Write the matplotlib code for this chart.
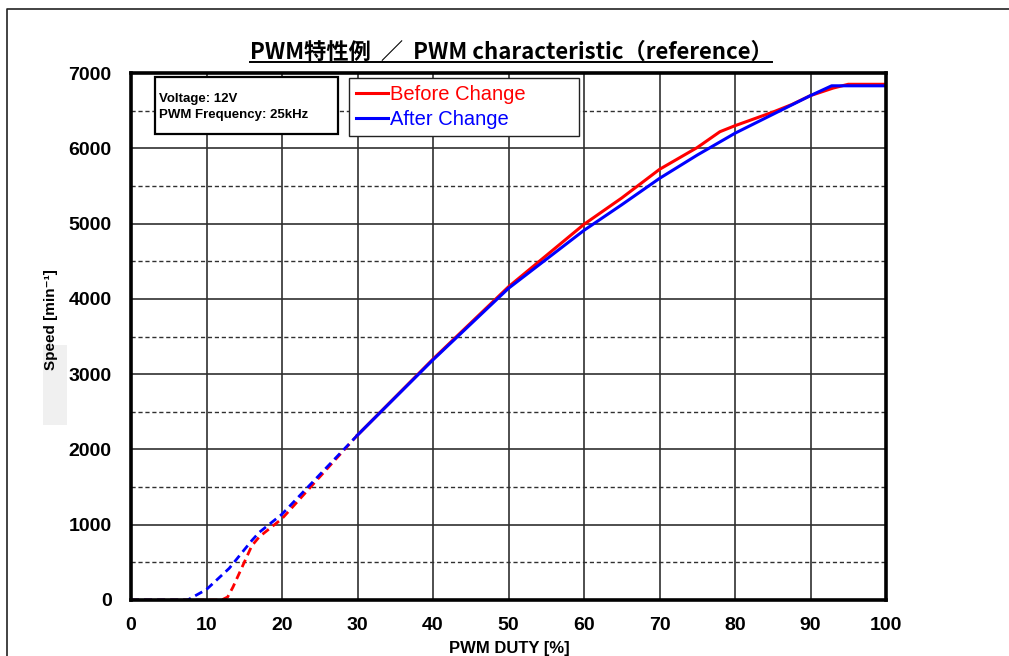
import matplotlib
matplotlib.use("Agg")
import matplotlib.pyplot as plt
from matplotlib.lines import Line2D
from matplotlib.patches import Rectangle
from matplotlib.ticker import MultipleLocator

W, H = 1009, 656

# values
duty_before_low = [0, 12, 12.8, 13.5, 16, 17, 20, 30]
speed_before_low = [0, 0, 40, 170, 720, 840, 1080, 2190]
duty_after_low = [0, 7.5, 10, 13, 16, 17, 20, 30]
speed_after_low = [0, 0, 140, 420, 790, 900, 1140, 2190]

duty_before = [30, 40, 50, 60, 65, 70, 75, 78, 80, 85, 87.5, 90, 93, 95, 100]
speed_before = [2190, 3200, 4160, 4990, 5340, 5720, 6010, 6220, 6300, 6480, 6580, 6700, 6800, 6850, 6850]
duty_after = [30, 40, 50, 60, 65, 70, 75, 80, 85, 90, 92.8, 100]
speed_after = [2190, 3190, 4140, 4910, 5250, 5600, 5910, 6200, 6450, 6700, 6830, 6830]

series_labels = ["Before Change", "After Change"]
info_lines = ["Voltage: 12V", "PWM Frequency: 25kHz"]
title_text = "PWM特性例  ／  PWM characteristic（reference）"

RED = "#ff0000"
BLUE = "#0000ff"
GRID = "#303030"
SANS = ["Liberation Sans", "DejaVu Sans"]


def fx(x):
    return x / W


def fy(y):
    return 1 - y / H


fig = plt.figure(figsize=(W / 100, H / 100), dpi=100)
ax = fig.add_axes([fx(131), fy(600), (886 - 131) / W, (600 - 73) / H])

ax.plot(duty_before_low, speed_before_low, color=RED, lw=2, ls=(0, (2.9, 1.8)), zorder=4)
ax.plot(duty_after_low, speed_after_low, color=BLUE, lw=2, ls=(0, (2.9, 1.8)), zorder=4)
ax.plot(duty_before, speed_before, color=RED, lw=2.2, label=series_labels[0], zorder=4)
ax.plot(duty_after, speed_after, color=BLUE, lw=2.2, label=series_labels[1], zorder=5)

ax.set_xlim(0, 100)
ax.set_ylim(0, 7000)
ax.xaxis.set_major_locator(MultipleLocator(10))
ax.yaxis.set_major_locator(MultipleLocator(1000))
ax.yaxis.set_minor_locator(MultipleLocator(500))
ax.grid(axis="x", which="major", color=GRID, lw=1.2, zorder=1)
ax.grid(axis="y", which="major", color=GRID, lw=1.2, zorder=1)
ax.grid(axis="y", which="minor", color=GRID, lw=1.0, ls=(0, (3, 2)), zorder=1)
ax.tick_params(which="both", length=0)
ax.tick_params(axis="y", pad=14)
ax.tick_params(axis="x", pad=12)
for lab in ax.get_xticklabels() + ax.get_yticklabels():
    lab.set_fontfamily(SANS)
    lab.set_fontweight("bold")
    lab.set_fontsize(14)
for sp in ax.spines.values():
    sp.set_linewidth(2.6)
    sp.set_color("black")
    sp.set_zorder(6)

leg = ax.legend(
    loc="upper left",
    bbox_to_anchor=(fx(349), fy(135.3), 230 / W, 57.6 / H),
    bbox_transform=fig.transFigure,
    mode="expand",
    borderaxespad=0,
    prop={"family": SANS, "size": 14.5},
    labelcolor="linecolor",
    handlelength=1.6,
    handletextpad=0.1,
    borderpad=0.35,
    labelspacing=0.32,
    fancybox=False,
    framealpha=1,
    edgecolor="#222222",
)
leg.get_frame().set_linewidth(1.0)

# info box
fig.add_artist(Rectangle((fx(155), fy(134)), 183 / W, 57 / H, transform=fig.transFigure,
                         fill=True, facecolor="white", edgecolor="black", lw=1.6, zorder=7))
for i, line in enumerate(info_lines):
    fig.text(fx(159), fy(102 + i * 16), line, fontsize=9.5, fontweight="bold",
             family=SANS, va="baseline", ha="left", zorder=8)

# axis labels
fig.add_artist(Rectangle((fx(43), fy(425)), 24 / W, 80 / H, transform=fig.transFigure,
                         facecolor="#f0f0f0", edgecolor="none", zorder=0))
fig.text(fx(51), fy(320), "Speed [min⁻¹]", rotation=90, fontsize=11, fontweight="bold",
         family=SANS, ha="center", va="center")
fig.text(fx(509), fy(648), "PWM DUTY [%]", fontsize=12, fontweight="bold",
         family=SANS, ha="center", va="center")

# title with underline
title = fig.text(fx(511), fy(59), title_text, fontsize=16, fontweight="bold",
                 family=["Noto Sans CJK JP", "DejaVu Sans"], ha="center", va="baseline")
fig.canvas.draw()
bb = title.get_window_extent().transformed(fig.transFigure.inverted())
fig.add_artist(Line2D([bb.x0, bb.x1], [fy(62), fy(62)], transform=fig.transFigure,
                      color="black", lw=1.4))

# outer page frame
fig.add_artist(Line2D([fx(7), fx(7), 1.0], [0.0, fy(9), fy(9)], transform=fig.transFigure,
                      color="#222222", lw=1.2))

fig.savefig("out.png", dpi=100)
